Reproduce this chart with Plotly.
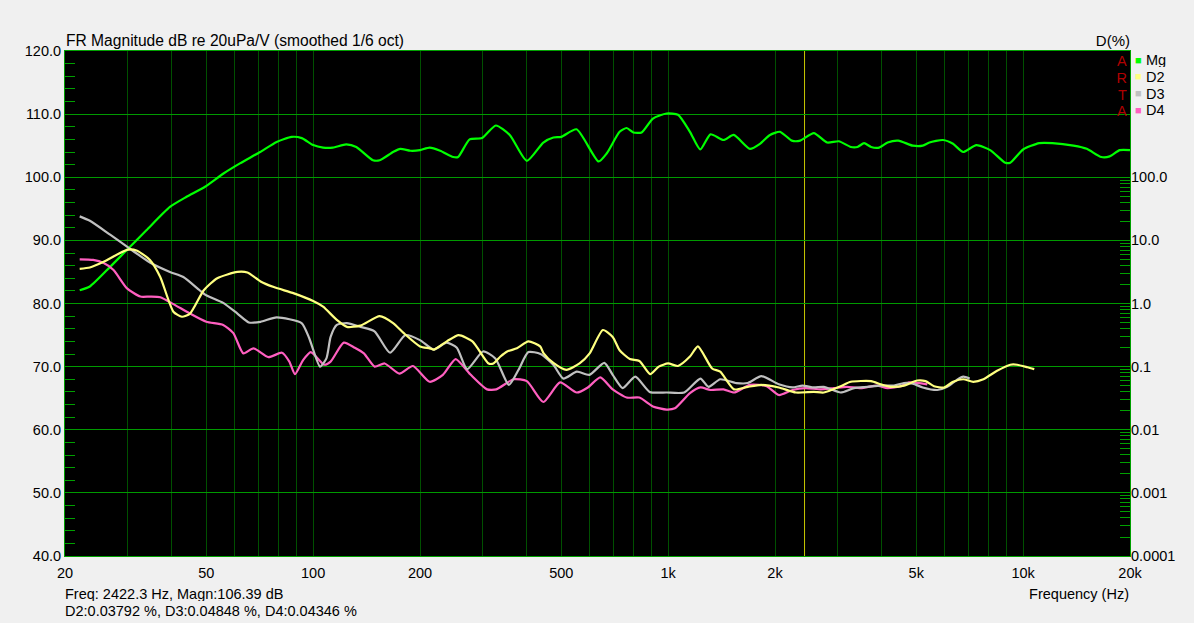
import plotly.graph_objects as go

# ---------------- data ----------------
# Magnitude response, dB re 20uPa/V
mg_freq = [22.0, 23.5, 26.8, 29.9, 33.9, 39.5, 44.0, 49.6, 55.9, 62.2, 70.9, 78.9, 87.0, 92.9,
           100, 106.7, 113.6, 124, 132.3, 147.4, 154, 168, 176, 188, 200, 213, 228, 248, 256,
           276, 299, 327, 358, 400, 445, 475, 500, 552, 637, 672, 730, 764, 798, 842, 906,
           990, 1066, 1152, 1232, 1316, 1432, 1530, 1700, 1814, 1936, 2066, 2230, 2355, 2573,
           2806, 3026, 3270, 3415, 3564, 3730, 3930, 4152, 4450, 4889, 5215, 5445, 5944, 6346,
           6778, 7383, 8078, 8906, 9200, 10000, 11100, 12100, 13860, 15110, 16600, 17530,
           18720, 20000]
mg_db = [82.1, 82.7, 85.8, 88.5, 91.6, 95.3, 96.9, 98.5, 100.6, 102.2, 104.0, 105.6, 106.4, 106.2,
         105.1, 104.7, 104.7, 105.2, 104.8, 102.7, 102.7, 104.0, 104.5, 104.2, 104.3, 104.7, 104.2,
         103.2, 103.2, 106.0, 106.2, 108.2, 106.7, 102.6, 105.5, 106.3, 106.4, 107.6, 102.5, 103.8,
         107.2, 107.8, 107.1, 107.1, 109.3, 110.1, 109.9, 107.2, 104.4, 106.8, 105.9, 106.7, 104.5,
         105.3, 106.7, 107.2, 105.8, 105.8, 107.0, 105.5, 105.7, 104.8, 104.8, 105.4, 104.8, 104.7,
         105.5, 105.8, 105.0, 105.0, 105.5, 105.9, 105.3, 104.0, 105.1, 104.3, 102.3, 102.3, 104.4,
         105.4, 105.4, 105.0, 104.5, 103.2, 103.3, 104.3, 104.3]

# Harmonic distortion, read as levels on the left dB scale (100 % <-> 100 dB, 1 decade per 10 dB)
d2_freq = [22, 23.5, 25.7, 29.9, 31.8, 34.7, 37.1, 40.4, 42.7, 45.0, 49.2, 53.7, 61.2, 65.3, 71.1,
           77.5, 88.3, 100, 106.7, 116.6, 124.5, 135.9, 154, 168, 180, 200, 213, 219, 238, 257, 281,
           312, 322, 337, 352, 375, 404, 436, 446, 475, 517, 563, 601, 655, 698, 730, 780, 830, 890,
           941, 1000, 1066, 1152, 1213, 1330, 1402, 1533, 1677, 1830, 2050, 2290, 2573, 2745, 3062,
           3270, 3730, 3970, 4240, 4617, 5030, 5310, 5610, 5990, 6350, 6780, 7240, 7730, 8420,
           9200, 9620, 10280, 10750]
d2_level = [85.5, 85.7, 86.6, 88.5, 88.4, 86.9, 84.2, 78.7, 77.9, 78.4, 82.1, 84.0, 85.0, 84.9, 83.5,
            82.6, 81.6, 80.4, 79.5, 77.4, 76.3, 76.5, 78.0, 76.9, 75.3, 73.2, 72.9, 72.7, 74.0, 75.0,
            74.0, 70.5, 70.5, 71.6, 72.4, 72.9, 74.0, 73.2, 72.1, 70.6, 69.5, 70.5, 72.1, 75.8, 74.7,
            72.6, 71.2, 70.9, 68.8, 70.0, 70.5, 70.1, 71.6, 73.2, 69.7, 69.2, 66.4, 66.8, 67.1, 66.7,
            65.9, 66.0, 65.9, 66.9, 67.6, 67.7, 67.2, 66.8, 67.0, 67.8, 67.7, 66.9, 66.7, 67.6, 68.0,
            67.6, 68.0, 69.3, 70.3, 70.3, 69.9, 69.6]

d3_freq = [22, 23.5, 26.8, 29.9, 34.7, 39.5, 43.1, 47.9, 50.0, 55.8, 61.2, 65.9, 71.1, 78.9, 92.8,
           97.5, 104.6, 109, 112, 116.6, 124.5, 135.9, 148.9, 164.7, 182, 200, 218.6, 237.6, 254,
           271.5, 301, 326, 356, 379, 404, 437, 475, 507, 553, 600, 661, 698, 745, 808, 887, 990,
           1110, 1233, 1300, 1402, 1557, 1677, 1830, 2050, 2240, 2390, 2573, 2745, 3062, 3340, 3650,
           3970, 4330, 4617, 4890, 5215, 5730, 6110, 6510, 6780, 7070]
d3_level = [93.8, 93.1, 90.9, 89.0, 86.5, 85.0, 84.2, 82.1, 81.3, 80.1, 78.4, 77.0, 77.1, 77.8, 76.9,
            74.5, 70.0, 71.3, 74.7, 76.6, 76.9, 76.3, 75.6, 72.2, 75.0, 74.2, 72.7, 73.8, 73.0,
            69.6, 72.4, 71.3, 67.1, 69.5, 72.3, 72.0, 70.3, 68.1, 69.2, 68.7, 70.6, 68.7, 66.6, 68.4,
            66.0, 65.9, 65.9, 68.1, 66.8, 68.0, 67.4, 67.4, 68.5, 67.2, 66.7, 67.0, 66.7, 66.8, 65.9,
            66.6, 66.8, 67.0, 67.0, 67.4, 67.3, 66.7, 66.3, 66.8, 67.9, 68.4, 68.1]

d4_freq = [22, 24, 25.7, 27.4, 29.9, 32.6, 34.7, 37.1, 40.4, 45, 50, 55.8, 59.6, 63.6, 67.9, 74.8,
           81.7, 85.7, 88.9, 93.6, 98.5, 107.5, 112, 122, 131, 139, 149, 159, 175, 191, 213, 232,
           252, 277, 309, 328, 367, 400, 445, 496, 553, 594, 644, 698, 764, 830, 906, 990, 1045,
           1152, 1233, 1316, 1432, 1533, 1700, 1895, 2050, 2240, 2440, 2690, 2930, 3190, 3490,
           3880, 4150, 4530, 4770, 5370]
d4_level = [87.0, 86.9, 86.4, 85.3, 82.4, 81.1, 81.1, 81.0, 79.9, 78.4, 77.1, 76.6, 75.3, 72.1, 72.9,
            71.5, 72.2, 70.8, 68.8, 71.0, 72.3, 70.3, 70.8, 73.8, 73.0, 72.1, 70.0, 70.5, 68.9, 70.1,
            67.6, 68.7, 71.2, 68.8, 66.4, 66.4, 68.0, 67.7, 64.4, 67.5, 65.9, 66.7, 68.3, 66.4, 65.1,
            65.1, 63.7, 63.2, 63.4, 65.8, 66.7, 66.3, 66.4, 65.9, 67.1, 66.9, 65.5, 66.3, 66.6, 66.4,
            66.6, 66.8, 66.6, 67.0, 66.6, 66.9, 67.5, 67.2]

# Cursor readout
cursor_freq = 2422.3
cursor_magn = 106.39
cursor_d2, cursor_d3, cursor_d4 = 0.03792, 0.04848, 0.04346

# Axis ticks
x_major = [20, 50, 100, 200, 500, 1000, 2000, 5000, 10000, 20000]
x_major_text = ["20", "50", "100", "200", "500", "1k", "2k", "5k", "10k", "20k"]
x_decades = [100, 1000, 10000]
d_ticks = [0.0001, 0.001, 0.01, 0.1, 1, 10, 100]
d_ticktext = ["0.0001", "0.001", "0.01", "0.1", "1.0", "10.0", "100.0"]
legend_names = ["Mg", "D2", "D3", "D4"]

# ---------------- styling ----------------
BG = "#f0f0f0"
GRID_BRIGHT = "#009a00"
GRID_DARK = "#005000"
FRAME = "#00a000"
FONT = "Liberation Sans, Arial, sans-serif"
COL = {"Mg": "#00ff00", "D2": "#ffff80", "D3": "#c0c0c0", "D4": "#ff5fc0"}


def to_pct(levels):
    return [10 ** ((v - 80.0) / 10.0) for v in levels]


# minor grid positions (1..9 per decade) on the frequency axis
x_grid = []
for dec in [10, 100, 1000, 10000]:
    for m in range(1, 10):
        f = m * dec
        if 20 <= f <= 20000:
            x_grid.append(f)
x_grid_text = [x_major_text[x_major.index(f)] if f in x_major else "" for f in x_grid]

# minor ticks on the right (log) axis
d_minor = []
for e in range(-4, 2):
    for m in range(1, 10):
        d_minor.append(m * 10 ** e)
d_minor.append(100)
d_minor_text = []
for v in d_minor:
    lab = ""
    for t, tt in zip(d_ticks, d_ticktext):
        if abs(v - t) / t < 1e-9:
            lab = tt
    d_minor_text.append(lab)

fig = go.Figure()

line_kw = dict(shape="spline", smoothing=0.6, width=2.2)
fig.add_trace(go.Scatter(x=mg_freq, y=mg_db, mode="lines", name="Mg",
                         line=dict(color=COL["Mg"], **line_kw), hoverinfo="skip"))
fig.add_trace(go.Scatter(x=d4_freq, y=to_pct(d4_level), mode="lines", name="D4", yaxis="y2",
                         line=dict(color=COL["D4"], **line_kw), hoverinfo="skip"))
fig.add_trace(go.Scatter(x=d3_freq, y=to_pct(d3_level), mode="lines", name="D3", yaxis="y2",
                         line=dict(color=COL["D3"], **line_kw), hoverinfo="skip"))
fig.add_trace(go.Scatter(x=d2_freq, y=to_pct(d2_level), mode="lines", name="D2", yaxis="y2",
                         line=dict(color=COL["D2"], **line_kw), hoverinfo="skip"))

# cursor line
fig.add_shape(type="line", xref="x", yref="paper", x0=cursor_freq, x1=cursor_freq, y0=0, y1=1,
              line=dict(color="#c8c800", width=1), layer="below")

tickfont = dict(family=FONT, size=14.5, color="#000000")

fig.update_layout(
    width=1194, height=623,
    margin=dict(l=65, r=64, t=51, b=67),
    paper_bgcolor=BG, plot_bgcolor="#000000",
    showlegend=False,
    xaxis=dict(type="log", range=[1.30103, 4.30103], tickmode="array", tickvals=x_grid,
               ticktext=x_grid_text, showgrid=True, gridcolor=GRID_DARK, gridwidth=1,
               ticks="", showline=True, linecolor=FRAME, linewidth=1, mirror=True,
               zeroline=False, tickfont=tickfont, ticklabelstandoff=4),
    xaxis2=dict(type="log", range=[1.30103, 4.30103], overlaying="x", anchor="y",
                tickmode="array", tickvals=x_decades, showticklabels=False, showgrid=True,
                gridcolor=GRID_BRIGHT, ticks="", zeroline=False, showline=False),
    yaxis=dict(range=[40, 120], tickmode="linear", tick0=40, dtick=10, tickformat=".1f",
               showgrid=True, gridcolor=GRID_BRIGHT, ticks="", showline=True, linecolor=FRAME,
               linewidth=1, mirror=True, zeroline=False, tickfont=tickfont,
               minor=dict(dtick=2, tick0=40, ticks="inside", ticklen=10, tickcolor=FRAME,
                          tickwidth=1, showgrid=False)),
    yaxis2=dict(type="log", range=[-4, 4], overlaying="y", side="right", tickmode="array",
                tickvals=d_minor, ticktext=d_minor_text, ticks="inside", ticklen=10,
                tickcolor=FRAME, tickwidth=1, showgrid=False, zeroline=False, showline=False,
                tickfont=tickfont),
)

ann = []
def add_text(text, xpx, ypx, width, xanchor="left", color="#000000", size=14.5, height=None):
    d = dict(text=text, xref="paper", yref="paper", x=0, y=1, align=xanchor, width=width,
             xshift=xpx - 65, yshift=51 - ypx, xanchor=xanchor, yanchor="middle",
             showarrow=False, borderpad=0, font=dict(family=FONT, size=size, color=color))
    if height is not None:
        d["height"] = height
    ann.append(d)

add_text("FR Magnitude dB re 20uPa/V (smoothed 1/6 oct)", 65, 40, 360, size=15.6)
add_text("D(%)", 1131, 40, 50, xanchor="right", size=15)
for i, letter in enumerate("ARTA"):
    add_text(letter, 1128, 61 + i * 16.8, 14, xanchor="right", color="#b00000", size=14.5,
             height=14)
for i, name in enumerate(legend_names):
    add_text("■", 1134, 59.5 + i * 16.8, 12, color=COL[name], size=11, height=12)
    add_text(name, 1145, 60 + i * 16.8, 30, height=14)
add_text("Frequency (Hz)", 1130, 594, 120, xanchor="right")
add_text(f"Freq: {cursor_freq} Hz, Magn:{cursor_magn} dB", 64, 593, 300, height=15)
add_text(f"D2:{cursor_d2} %, D3:{cursor_d3} %, D4:{cursor_d4} %", 64, 610, 360, height=15)
fig.update_layout(annotations=ann)

fig.write_html("out.html", config={"displayModeBar": False},
               post_script="document.body.style.margin='0';")
